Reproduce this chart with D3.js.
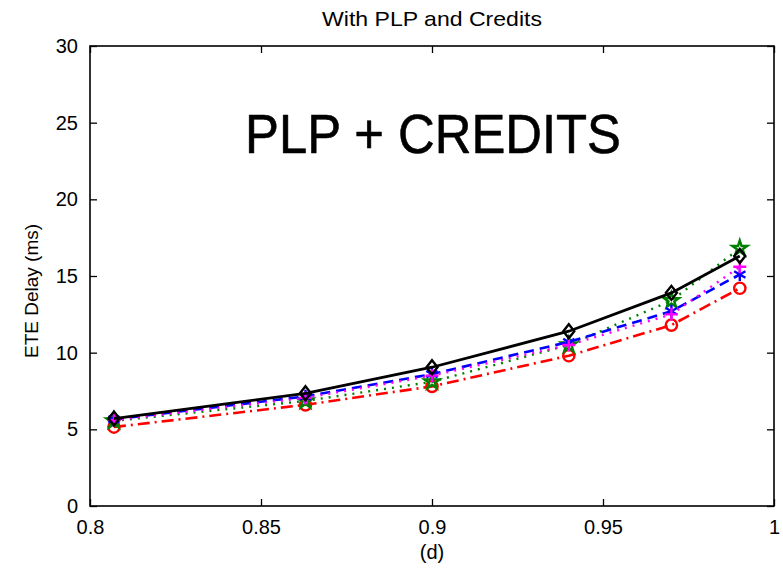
<!DOCTYPE html>
<html>
<head>
<meta charset="utf-8">
<script src="https://cdn.jsdelivr.net/npm/d3@7"></script>
<style>
  html, body { margin: 0; padding: 0; background: #fff; }
  svg { display: block; }
  text { font-family: "Liberation Sans", Arial, sans-serif; fill: #000; }
</style>
</head>
<body>
<svg id="chart" width="783" height="570"></svg>
<script>
// Load factor (d) at which each delay was measured
const loads = [0.807, 0.863, 0.9, 0.94, 0.97, 0.99];

// End-to-end delay (ms) for each configuration
const delayRed     = [5.15, 6.6, 7.8, 9.8, 11.8, 14.2];
const delayGreen   = [5.55, 6.85, 8.1, 10.5, 13.4, 16.8];
const delayBlue    = [5.65, 7.15, 8.6, 10.7, 12.7, 15.1];
const delayMagenta = [5.6, 7.05, 8.5, 10.5, 12.5, 15.6];
const delayBlack   = [5.7, 7.35, 9.05, 11.4, 13.9, 16.3];

const xTicks = [0.8, 0.85, 0.9, 0.95, 1];
const xTickLabels = ["0.8", "0.85", "0.9", "0.95", "1"];
const yTicks = [0, 5, 10, 15, 20, 25, 30];
const yTickLabels = ["0", "5", "10", "15", "20", "25", "30"];

const titleText = "With PLP and Credits";
const xLabelText = "(d)";
const yLabelText = "ETE Delay (ms)";
const noteText = "PLP + CREDITS";

const svg = d3.select("#chart");
const L = 90, R = 774, T = 46, B = 506;

const x = d3.scaleLinear().domain([0.8, 1]).range([L, R]);
const y = d3.scaleLinear().domain([0, 30]).range([B, T]);

const fontSize = 20;
const tickLen = 7;

// Axes box with inward ticks on all four sides
const axisG = svg.append("g");
const addAxis = (gen, transform) => {
  const g = axisG.append("g").attr("transform", transform).call(gen);
  g.select(".domain").remove();
  g.selectAll("line").attr("stroke", "#000").attr("stroke-width", 1.3);
  return g;
};
const bottom = addAxis(
  d3.axisBottom(x).tickValues(xTicks).tickSizeInner(-tickLen).tickSizeOuter(0)
    .tickPadding(14).tickFormat((d, i) => xTickLabels[i]),
  `translate(0,${B})`);
bottom.selectAll("text").attr("font-size", fontSize).attr("font-family", "Liberation Sans, Arial, sans-serif");
addAxis(d3.axisTop(x).tickValues(xTicks).tickSizeInner(-tickLen).tickSizeOuter(0).tickFormat(""),
  `translate(0,${T})`);
const left = addAxis(
  d3.axisLeft(y).tickValues(yTicks).tickSizeInner(-tickLen).tickSizeOuter(0)
    .tickPadding(12).tickFormat((d, i) => yTickLabels[i]),
  `translate(${L},0)`);
left.selectAll("text").attr("font-size", fontSize).attr("font-family", "Liberation Sans, Arial, sans-serif");
addAxis(d3.axisRight(y).tickValues(yTicks).tickSizeInner(-tickLen).tickSizeOuter(0).tickFormat(""),
  `translate(${R},0)`);

axisG.append("rect")
  .attr("x", L).attr("y", T).attr("width", R - L).attr("height", B - T)
  .attr("fill", "none").attr("stroke", "#000").attr("stroke-width", 1.6);

// Titles
svg.append("text").attr("x", (L + R) / 2).attr("y", 26)
  .attr("text-anchor", "middle").attr("font-size", 21)
  .attr("textLength", 220).attr("lengthAdjust", "spacingAndGlyphs")
  .text(titleText);
svg.append("text").attr("x", (L + R) / 2).attr("y", 559)
  .attr("text-anchor", "middle").attr("font-size", fontSize).text(xLabelText);
svg.append("text")
  .attr("transform", `translate(38,${291}) rotate(-90)`)
  .attr("text-anchor", "middle").attr("font-size", fontSize - 1).text(yLabelText);

// Large annotation inside the plot area
svg.append("text")
  .attr("x", 245).attr("y", 153)
  .attr("font-family", "'Comic Sans MS', Lato, 'DejaVu Sans', sans-serif")
  .attr("font-size", 55)
  .attr("stroke", "#000").attr("stroke-width", 0.6).attr("stroke-linejoin", "round")
  .attr("textLength", 376).attr("lengthAdjust", "spacingAndGlyphs")
  .text(noteText);

// Marker shapes
const asterisk = r => {
  const a = r * Math.cos(Math.PI / 6), b = r * Math.sin(Math.PI / 6);
  return `M0,${-r}V${r}M${-a},${-b}L${a},${b}M${-a},${b}L${a},${-b}`;
};
const plus = r => `M0,${-r}V${r}M${-r},0H${r}`;

const series = [
  { values: delayRed, color: "#ff0000", dash: "12,5,2,5", width: 2.6,
    marker: "circle" },
  { values: delayGreen, color: "#008000", dash: "2,6", width: 2.4,
    marker: "star" },
  { values: delayBlue, color: "#0000ff", dash: "10,6", width: 2.6,
    marker: "asterisk" },
  { values: delayMagenta, color: "#ff00ff", dash: "2,6", width: 2.4,
    marker: "plus" },
  { values: delayBlack, color: "#000000", dash: null, width: 2.8,
    marker: "diamond" }
];

const line = d3.line().x(d => x(d[0])).y(d => y(d[1]));

series.forEach(s => {
  const pts = loads.map((v, i) => [v, s.values[i]]);
  const g = svg.append("g");
  g.append("path").attr("d", line(pts))
    .attr("fill", "none").attr("stroke", s.color)
    .attr("stroke-width", s.width)
    .attr("stroke-dasharray", s.dash);
  const m = g.selectAll("path.mk").data(pts).join("path").attr("class", "mk")
    .attr("transform", d => `translate(${x(d[0])},${y(d[1])})`)
    .attr("fill", "none").attr("stroke", s.color).attr("stroke-width", 2.4);
  if (s.marker === "circle") m.attr("d", d3.symbol(d3.symbolCircle, 100)());
  else if (s.marker === "star") m.attr("d", d3.symbol(d3.symbolStar, 70)());
  else if (s.marker === "diamond") m.attr("d", "M0,-7L5.5,0L0,7L-5.5,0Z");
  else if (s.marker === "asterisk") m.attr("d", asterisk(6.5));
  else if (s.marker === "plus") m.attr("d", plus(6.5));
});
</script>
</body>
</html>
